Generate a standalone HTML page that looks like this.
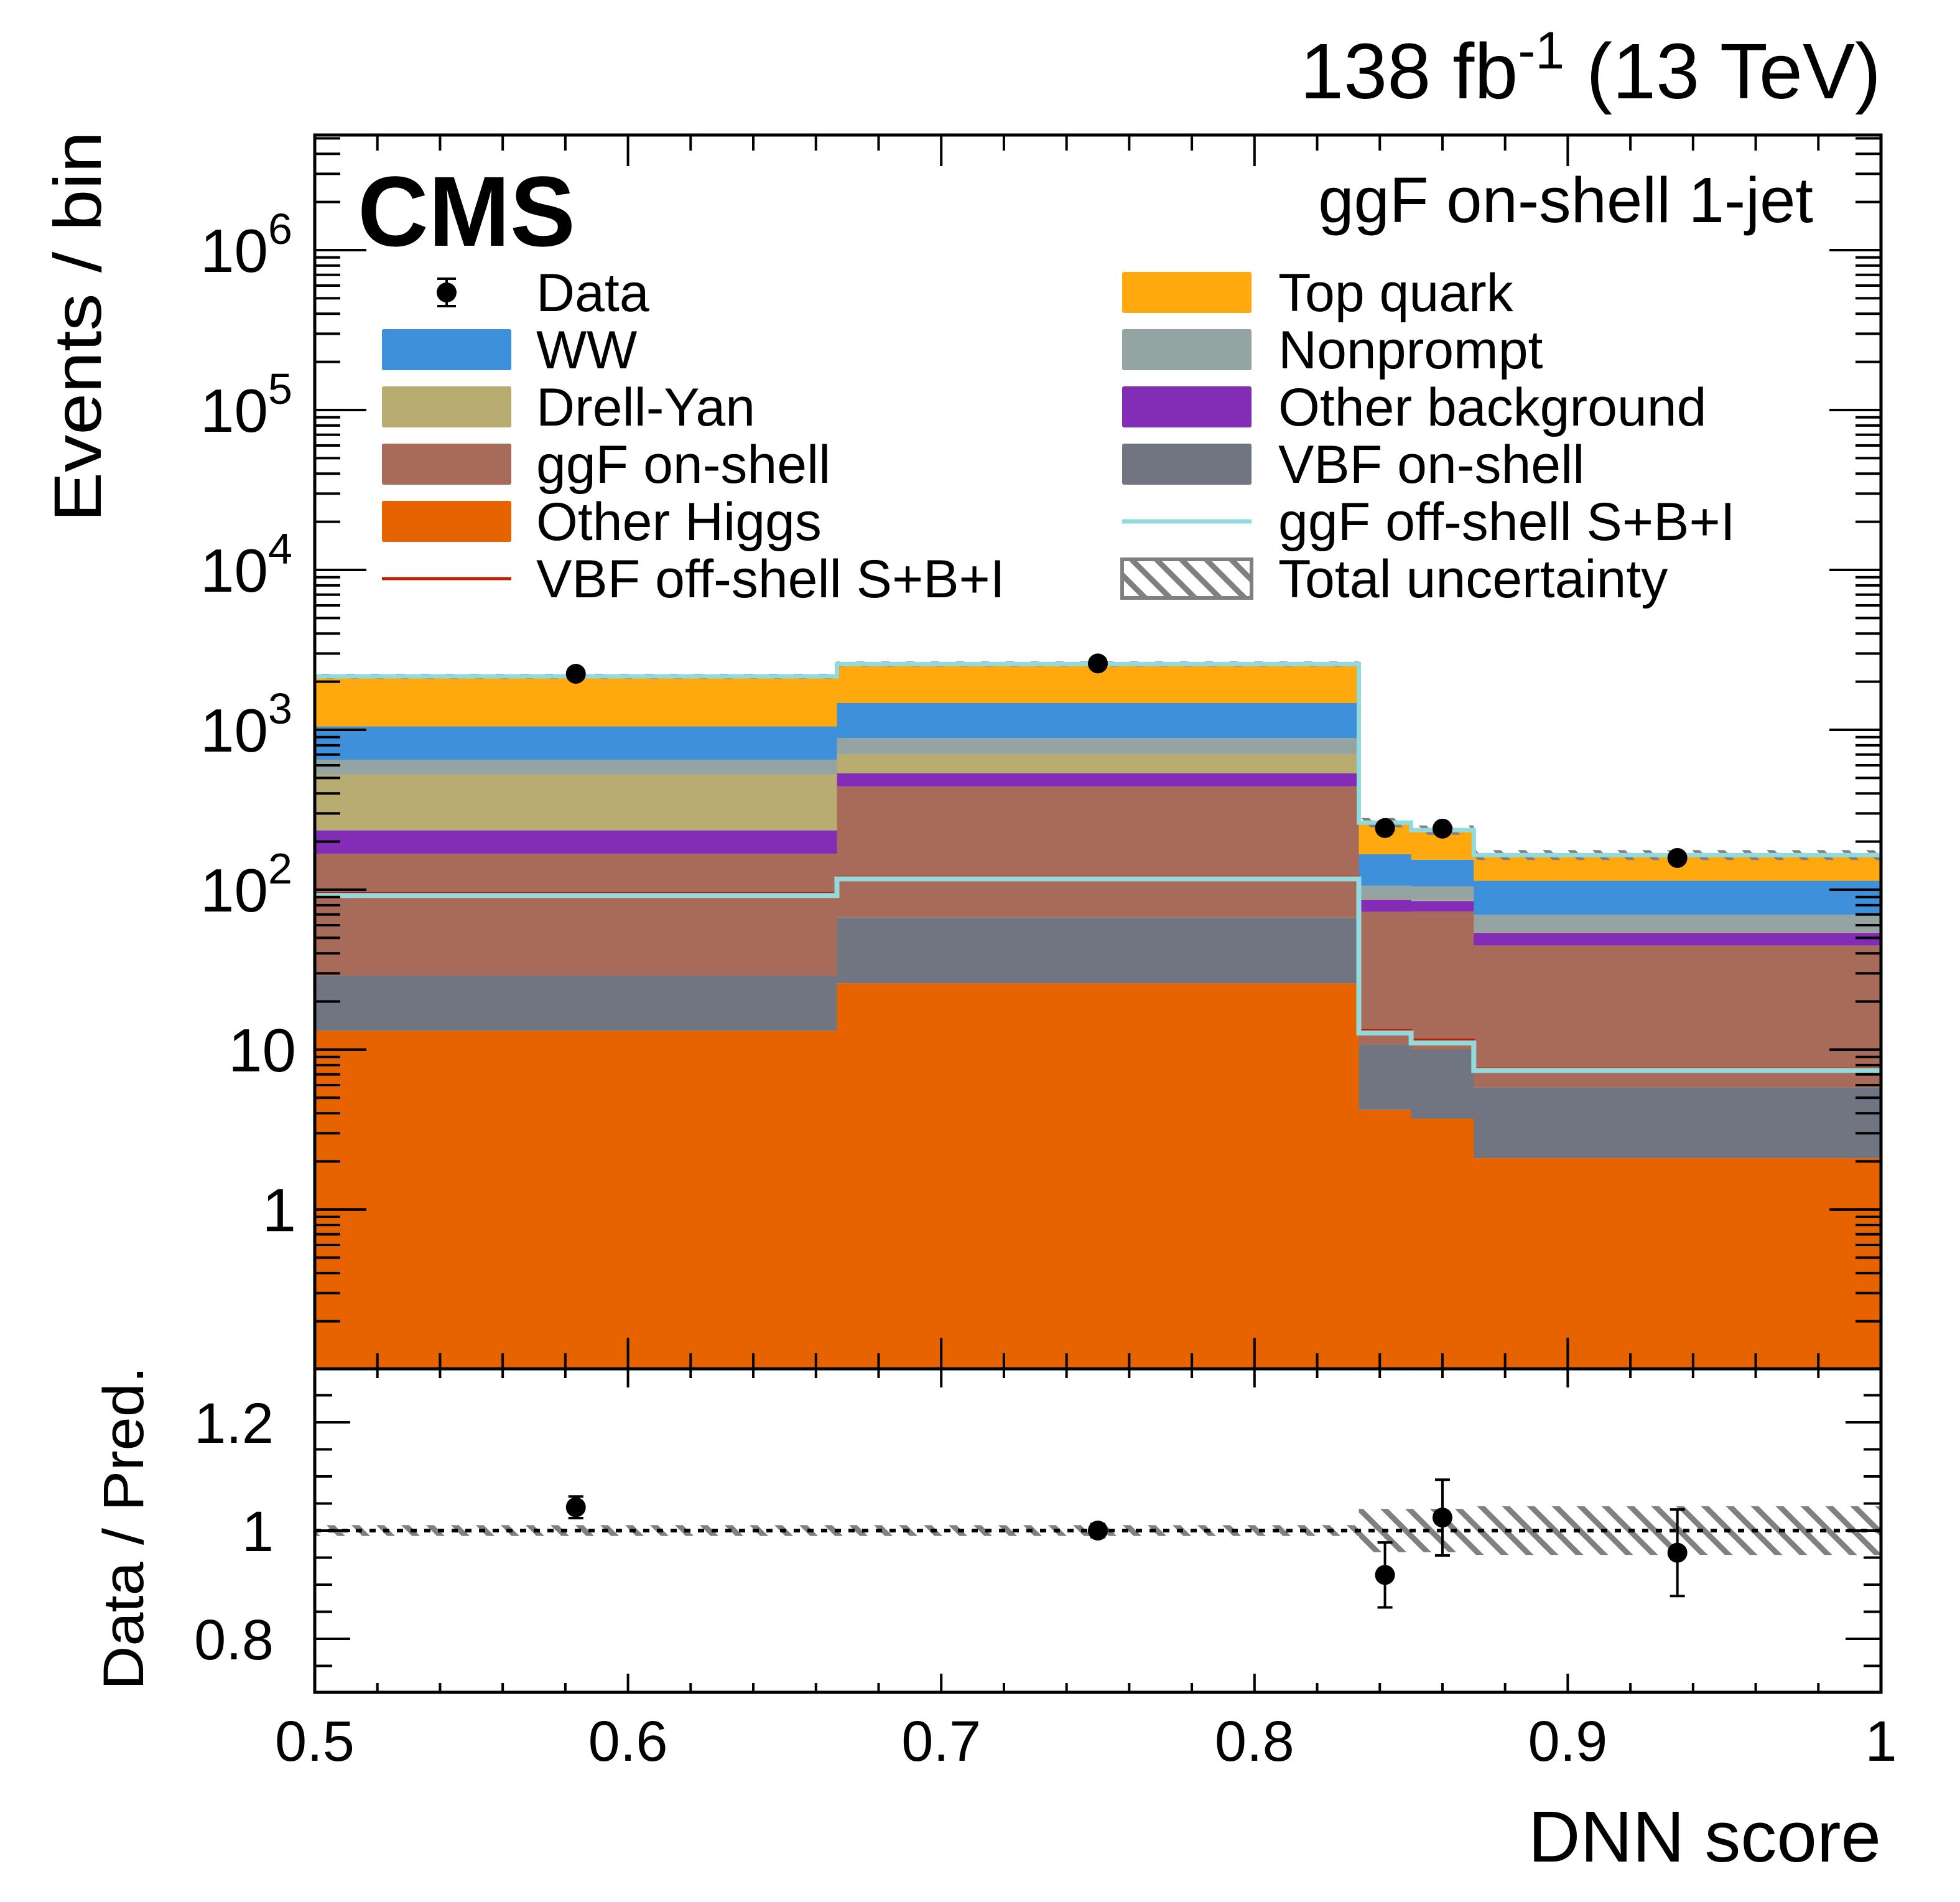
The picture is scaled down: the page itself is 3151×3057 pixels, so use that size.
<!DOCTYPE html>
<html><head><meta charset="utf-8"><style>
html,body{margin:0;padding:0;background:#fff}
svg{display:block}
text{font-family:"Liberation Sans",Arial,sans-serif;fill:#000}
</style></head><body>
<svg id="chart" width="3151" height="3057" viewBox="0 0 3151 3057" xmlns="http://www.w3.org/2000/svg">
<defs>
<pattern id="hatch" patternUnits="userSpaceOnUse" width="40" height="40">
<path d="M-10,-10 L50,50 M-10,30 L10,50 M30,-10 L50,10" stroke="#808080" stroke-width="9"/>
</pattern>
</defs>
<g id="stack"></g>
<g id="lines"></g>
<g id="ratio"></g>
<g id="axes"></g>
<g id="legend"></g>
<text x="3024" y="158" font-size="126" text-anchor="end">138 fb<tspan dy="-48" font-size="84">-1</tspan><tspan dy="48"> (13 TeV)</tspan></text>
<text x="575" y="395" font-size="160" font-weight="bold" textLength="350" lengthAdjust="spacingAndGlyphs">CMS</text>
<text x="2915" y="357" font-size="103" text-anchor="end">ggF on-shell 1-jet</text>
<text transform="translate(162,839) rotate(-90)" font-size="108" textLength="628" lengthAdjust="spacingAndGlyphs">Events / bin</text>
<text transform="translate(230,2716) rotate(-90)" font-size="92" textLength="520" lengthAdjust="spacingAndGlyphs">Data / Pred.</text>
<text x="3024" y="2992" font-size="116" text-anchor="end">DNN score</text>
</svg>
<script>
const binEdges = [0.5, 0.6667, 0.8333, 0.85, 0.87, 1.0];
const otherHiggs = [13.1, 26, 4.2, 3.7, 2.1];
const vbfOnShell = [15.9, 41, 6.6, 6.3, 3.7];
const ggfOnShell = [139, 375, 62, 63, 39];
const otherBkg = [67, 93, 14, 12, 9];
const drellYan = [290, 170, 1, 1, 0.5];
const nonprompt = [125, 185, 18, 19, 15.5];
const ww = [400, 580, 61, 49, 44];
const topQuark = [1110, 1110, 96, 82, 51];
const ggfOffShell = [92, 117, 12.7, 11, 7.4];
const vbfOffShell = [95, 120, 13.2, 11.5, 7.6];
const dataCounts = [2240, 2600, 243, 241, 158];
const ratioValues = [1.043, 1.0, 0.918, 1.024, 0.959];
const ratioErrors = [0.02, 0.012, 0.06, 0.07, 0.08];
const uncertainty = [0.01, 0.01, 0.04, 0.04, 0.045];
const xTickLabels = ["0.5", "0.6", "0.7", "0.8", "0.9", "1"];
const yTickPowers = [0, 1, 2, 3, 4, 5, 6];
const ratioTickLabels = ["0.8", "1", "1.2"];

const NS = "http://www.w3.org/2000/svg";
const L = 506, R = 3024, T = 217, B = 2200, RB = 2720;
const X = v => L + (v - 0.5) / 0.5 * (R - L);
const Y = v => 1944 - 257 * Math.log10(v);
const YR = v => 2460 - (v - 1) * 870;
function mk(tag, attrs, parent) {
  const e = document.createElementNS(NS, tag);
  for (const k in attrs) e.setAttribute(k, attrs[k]);
  parent.appendChild(e);
  return e;
}
const stack = document.getElementById("stack");
const procs = [
  ["other-higgs", otherHiggs, "#e76300"],
  ["vbf-on-shell", vbfOnShell, "#717581"],
  ["ggf-on-shell", ggfOnShell, "#a96b59"],
  ["other-background", otherBkg, "#832db6"],
  ["drell-yan", drellYan, "#b9ac70"],
  ["nonprompt", nonprompt, "#94a4a2"],
  ["ww", ww, "#3f90da"],
  ["top-quark", topQuark, "#ffa90e"]
];
const totals = [];
for (let i = 0; i < 5; i++) {
  let base = 0;
  for (const [name, arr, col] of procs) {
    const lo = base;
    base += arr[i];
    const y0 = lo <= 0.1 ? B : Y(lo);
    const y1 = Y(base);
    const r = mk("rect", {x: X(binEdges[i]), y: y1, width: X(binEdges[i+1]) - X(binEdges[i]) + 0.5, height: Math.max(0, y0 - y1), fill: col}, stack);
    
    
  }
  totals.push(base);
}
for (let i = 0; i < 5; i++) {
  const hi = Y(totals[i] * (1 + uncertainty[i])), lo = Y(totals[i] * (1 - uncertainty[i]));
  const r = mk("rect", {x: X(binEdges[i]), y: hi - 3, width: X(binEdges[i+1]) - X(binEdges[i]), height: lo - hi + 6, fill: "url(#hatch)"}, stack);
  
  
}
const lines = document.getElementById("lines");
function stepPath(vals, f) {
  let d = "";
  for (let i = 0; i < vals.length; i++) {
    const y = f(vals[i]);
    d += (i === 0 ? "M" : "L") + X(binEdges[i]) + "," + y + "L" + X(binEdges[i+1]) + "," + y;
  }
  return d;
}
let p = mk("path", {d: stepPath(totals, Y), fill: "none", stroke: "#92dadd", "stroke-width": 7}, lines);


p = mk("path", {d: stepPath(vbfOffShell, Y), fill: "none", stroke: "#bd1f01", "stroke-width": 4}, lines);


p = mk("path", {d: stepPath(ggfOffShell, Y), fill: "none", stroke: "#92dadd", "stroke-width": 8}, lines);


for (let i = 0; i < 5; i++) {
  const cx = X((binEdges[i] + binEdges[i+1]) / 2);
  const c = mk("circle", {cx: cx, cy: Y(dataCounts[i]), r: 16, fill: "#000"}, lines);
  
  
}
const ratio = document.getElementById("ratio");
for (let i = 0; i < 5; i++) {
  const r = mk("rect", {x: X(binEdges[i]), y: YR(1 + uncertainty[i]), width: X(binEdges[i+1]) - X(binEdges[i]), height: YR(1 - uncertainty[i]) - YR(1 + uncertainty[i]), fill: "url(#hatch)"}, ratio);
  
  
}
p = mk("line", {x1: L, x2: R, y1: YR(1), y2: YR(1), stroke: "#000", "stroke-width": 6, "stroke-dasharray": "10 12"}, ratio);


for (let i = 0; i < 5; i++) {
  const cx = X((binEdges[i] + binEdges[i+1]) / 2);
  const e = mk("line", {x1: cx, x2: cx, y1: YR(ratioValues[i] + ratioErrors[i]), y2: YR(ratioValues[i] - ratioErrors[i]), stroke: "#000", "stroke-width": 4}, ratio);
  
  
  for (const v of [ratioValues[i] + ratioErrors[i], ratioValues[i] - ratioErrors[i]]) {
    const cap = mk("line", {x1: cx - 12, x2: cx + 12, y1: YR(v), y2: YR(v), stroke: "#000", "stroke-width": 4}, ratio);
    
    
  }
  const c = mk("circle", {cx: cx, cy: YR(ratioValues[i]), r: 16, fill: "#000"}, ratio);
  
  
}
const axes = document.getElementById("axes");
const SW = 5;
let f = mk("rect", {x: L, y: T, width: R - L, height: B - T, fill: "none", stroke: "#000", "stroke-width": SW}, axes);


f = mk("rect", {x: L, y: B, width: R - L, height: RB - B, fill: "none", stroke: "#000", "stroke-width": SW}, axes);


function tick(x1, y1, x2, y2, name) {
  const t = mk("line", {x1, y1, x2, y2, stroke: "#000", "stroke-width": 4}, axes);
  
  
}
for (let k = 0; k <= 25; k++) {
  const v = 0.5 + k * 0.02;
  const x = X(v);
  const major = k % 5 === 0;
  const lm = major ? 50 : 25, lr = major ? 30 : 15;
  tick(x, B, x, B - lm, 'x-tick');
  tick(x, T, x, T + lm, 'x-tick');
  tick(x, RB, x, RB - lr, 'x-tick');
  tick(x, B, x, B + lr, 'x-tick');
}
xTickLabels.forEach((s, i) => {
  const t = mk("text", {x: X(0.5 + i * 0.1), y: 2830, "font-size": 92, "text-anchor": "middle"}, axes);
  t.textContent = s;
  
  
});
for (let e = -1; e <= 6; e++) {
  for (let m = 1; m <= 9; m++) {
    const v = m * Math.pow(10, e);
    const y = Y(v);
    if (y < T || y > B) continue;
    const len = m === 1 ? 83 : 41;
    tick(L, y, L + len, y, 'y-tick');
    tick(R, y, R - len, y, 'y-tick');
  }
}
yTickPowers.forEach(pw => {
  const t = mk("text", {x: 476, y: Y(Math.pow(10, pw)) + 35, "font-size": 98, "text-anchor": "end"}, axes);
  if (pw === 0) t.textContent = "1";
  else if (pw === 1) t.textContent = "10";
  else {
    t.textContent = "10";
    const s = mk("tspan", {dy: -45, "font-size": 70}, t);
    s.textContent = String(pw);
    t.setAttribute("text-anchor", "start");
    t.setAttribute("x", 322);
  }
  
  
});
for (let k = -7; k <= 7; k++) {
  const v = 1 + k * 0.05;
  const y = YR(v);
  if (y <= B || y >= RB) continue;
  const len = (k % 4 === 0) ? 57 : 28;
  tick(L, y, L + len, y, 'ratio-y-tick');
  tick(R, y, R - len, y, 'ratio-y-tick');
}
ratioTickLabels.forEach(s => {
  const t = mk("text", {x: 440, y: YR(parseFloat(s)) + 33, "font-size": 92, "text-anchor": "end"}, axes);
  t.textContent = s;
  
  
});
const legend = document.getElementById("legend");
const legendItems = [
  [0, 0, "Data", "data"], [0, 1, "WW", "#3f90da"], [0, 2, "Drell-Yan", "#b9ac70"], [0, 3, "ggF on-shell", "#a96b59"], [0, 4, "Other Higgs", "#e76300"], [0, 5, "VBF off-shell S+B+I", "redline"],
  [1, 0, "Top quark", "#ffa90e"], [1, 1, "Nonprompt", "#94a4a2"], [1, 2, "Other background", "#832db6"], [1, 3, "VBF on-shell", "#717581"], [1, 4, "ggF off-shell S+B+I", "cyanline"], [1, 5, "Total uncertainty", "hatch"]
];
legendItems.forEach(([col, row, label, sty]) => {
  const sx = col ? 1804 : 614, tx = col ? 2055 : 862;
  const cy = 470 + row * 92;
  const g = mk("g", {}, legend);
  
  
  if (sty === "data") {
    mk("line", {x1: 718, x2: 718, y1: cy - 22, y2: cy + 22, stroke: "#000", "stroke-width": 4}, g);
    mk("line", {x1: 703, x2: 733, y1: cy - 22, y2: cy - 22, stroke: "#000", "stroke-width": 4}, g);
    mk("line", {x1: 703, x2: 733, y1: cy + 22, y2: cy + 22, stroke: "#000", "stroke-width": 4}, g);
    mk("circle", {cx: 718, cy: cy, r: 16, fill: "#000"}, g);
  } else if (sty === "redline") {
    mk("line", {x1: sx, x2: sx + 208, y1: cy, y2: cy, stroke: "#bd1f01", "stroke-width": 5}, g);
  } else if (sty === "cyanline") {
    mk("line", {x1: sx, x2: sx + 208, y1: cy, y2: cy, stroke: "#92dadd", "stroke-width": 7}, g);
  } else if (sty === "hatch") {
    mk("rect", {x: sx, y: cy - 31, width: 208, height: 62, fill: "url(#hatch)", stroke: "#808080", "stroke-width": 6}, g);
  } else {
    mk("rect", {x: sx, y: cy - 33, width: 208, height: 66, fill: sty, rx: 3}, g);
  }
  const t = mk("text", {x: tx, y: cy + 30, "font-size": 86}, g);
  t.textContent = label;
});
</script>
</body></html>
